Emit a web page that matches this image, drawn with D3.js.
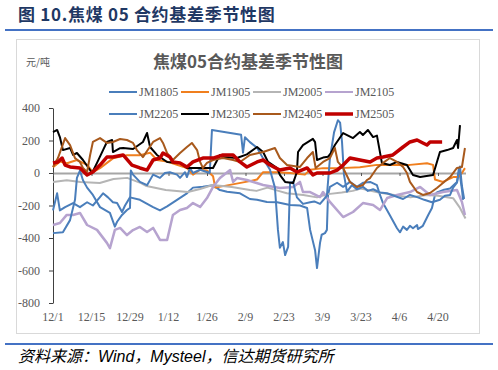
<!DOCTYPE html>
<html>
<head>
<meta charset="utf-8">
<script src="https://cdn.jsdelivr.net/npm/d3@7/dist/d3.min.js"></script>
<style>
body { margin: 0; background: #fff; }
</style>
</head>
<body>
<div id="container"></div>
<script>
// days counted from 12/1
var tickDays = [0, 14, 28, 42, 56, 70, 84, 98, 112, 126, 140];
var tickLabels = ["12/1", "12/15", "12/29", "1/12", "1/26", "2/9", "2/23", "3/9", "3/23", "4/6", "4/20"];
var yTicks = [400, 200, 0, -200, -400, -600, -800];

var seriesNames = ["JM1805", "JM1905", "JM2005", "JM2105", "JM2205", "JM2305", "JM2405", "JM2505"];
var seriesColors = ["#4a7ebb", "#f07f1e", "#b5b5b5", "#b6a3cf", "#4a7ebb", "#000000", "#a8591c", "#c00000"];

var jm1805 = [[0,-230],[1.5,-125],[2.5,-230],[4.4,-210],[7.3,-185],[9.8,-210],[12.4,-180],[14.5,-200],[17,-150],[18.2,-125],[20,-150],[21.8,-180],[23.3,-185],[25.1,-240],[26.2,-200],[28,-150],[31.6,-165],[36.4,-210],[38.9,-230],[41.5,-205],[45.1,-165],[48.7,-125],[50.9,-90],[54.5,-85],[58.2,-75],[60.7,-105],[63.3,-115],[68,-125],[71.6,-160],[74.2,-165],[77.8,-178],[81.5,-180],[86.2,-197],[89.8,-200],[92.4,-215],[93.5,-350],[95.3,-475],[96,-585],[97.1,-430],[97.7,-380],[98.9,-370],[99.6,-350],[100,-135],[100.7,-85],[103.3,-60],[105.5,-85],[108,-55],[110.5,-85],[112.7,-60],[115.3,-55],[117.8,-75],[118.9,-135],[120,-185],[122.5,-260],[125.1,-340],[126.2,-365],[127.3,-330],[128.7,-350],[129.8,-325],[130.9,-340],[132.4,-320],[132.7,-345],[134.5,-325],[136.4,-260],[137.8,-215],[138.9,-135],[139.6,-120],[141.8,-105],[144.4,-95],[146.9,-55],[147.6,30],[148.7,-100],[149.1,-165]];
var jm1905 = [[0,35],[2.5,70],[5.1,60],[8.7,80],[12.4,50],[14.5,5],[17.1,30],[21.8,90],[26.9,110],[31.6,110],[35.3,125],[37.8,80],[41.5,70],[45.1,50],[48.7,30],[50.9,-10],[53.5,20],[56,15],[58.2,-20],[59,-90],[71.6,-50],[74.2,-40],[76.4,5],[78.9,5],[81.5,5],[86.2,0],[91.6,-10],[93.5,20],[98.2,30],[104.4,30],[111.6,35],[117.8,50],[125,50],[129.8,50],[136,60],[138.2,50],[138.9,-40],[141.8,-55],[145.5,-25],[147.3,-25],[148.7,0],[149.8,30]];
var jm2005 = [[0,-55],[5,-45],[10,-55],[17,-62],[22,-37],[27,-30],[32,-62],[34,-80],[41,-105],[49,-117],[53.5,-98],[58,-74],[65,-86],[71.6,-105],[74,-110],[78,-90],[82,-110],[85,-125],[91,-135],[96,-150],[100,-130],[105,-120],[109,-110],[112,-95],[118,-118],[124,-135],[130,-150],[136,-135],[140,-140],[145.5,-155],[148,-215],[150,-280]];
var jm2105 = [[0,-320],[2.5,-308],[5,-258],[7.3,-258],[9.8,-246],[12.4,-320],[16,-350],[19.6,-430],[20.7,-462],[22.5,-350],[24.4,-338],[26.9,-382],[29.1,-351],[31.6,-332],[34.2,-363],[36.4,-338],[38.9,-412],[41.5,-412],[43.6,-258],[46.2,-228],[48.7,-215],[50.9,-185],[53.5,-209],[56,-154],[58.2,-86],[60.7,-31],[64.4,18],[65.5,-55],[66.9,-31],[70.5,-43],[76.4,-74],[82.5,-92],[87.3,-86],[89.8,-55],[90.9,-117],[93.5,-117],[97.1,-148],[98.2,-117],[100.7,-178],[105.5,-271],[109.1,-240],[112.7,-185],[116.4,-197],[118.9,-228],[121.5,-154],[125.1,-135],[129.8,-117],[133.5,-86],[137.1,-135],[141.8,-117],[146.9,-105],[148.7,-178],[149.8,-258]];
var jm2205 = [[0,-370],[3.6,-365],[6.2,-290],[8,-165],[8.7,-30],[9.8,15],[10.9,-45],[12.4,-90],[14.5,-135],[17.1,-210],[20.7,-245],[22.5,-330],[23.3,-300],[25.1,-258],[26.9,-228],[28,-215],[28.3,15],[29.1,-10],[31.6,-55],[34.2,-75],[36.4,-10],[38.9,-30],[40.7,0],[42.5,5],[45.1,-10],[46.2,-30],[48,5],[48.7,-25],[49.8,30],[50.9,0],[53.5,20],[57,0],[57.8,265],[68.4,235],[69.1,125],[69.8,220],[71.6,190],[74.2,155],[76.4,90],[78.9,20],[80.7,-90],[81.8,-350],[82.5,-460],[83.6,-425],[84.4,-505],[85.5,-455],[86.2,-60],[87.3,-55],[88.7,-150],[90.9,-190],[93.5,-180],[95,-175],[97.1,-190],[99.6,-140],[100.7,90],[102.2,250],[103.6,325],[104.4,310],[105.1,190],[105.8,-10],[106.9,-115],[108.7,-75],[110.5,-100],[112.7,-85],[114.5,-110],[116.4,-100],[118.9,-120],[121.5,-125],[124,-140],[127.3,-160],[129.8,-135],[132.7,-150],[135,-165],[137.8,-180],[140.7,-165],[142.5,-140],[144.4,-135],[145.5,-90],[146.9,-60],[148,40],[148.7,-80],[149.5,-160]];
var jm2305 = [[0,252],[1.5,265],[2.5,221],[3.6,141],[6.2,154],[7.3,111],[8.7,123],[10.9,80],[12.7,37],[14.2,0],[16,62],[18.2,141],[19.6,191],[21.5,203],[21.8,129],[24.4,153],[25.5,154],[29.1,148],[32.7,191],[34.2,246],[35.3,160],[37.8,111],[41.5,68],[46.2,62],[48.7,31],[53.5,31],[58.2,31],[60.7,111],[61.8,98],[66.9,92],[70.5,115],[74.2,160],[76.4,129],[78.2,68],[81.5,31],[82.5,-12],[84.4,-55],[87.3,-62],[88.7,6],[89.1,129],[90.9,172],[94.5,210],[95.3,190],[96,80],[98.2,95],[100,100],[101,120],[102.5,172],[105.5,246],[109.1,215],[111.6,252],[112.7,234],[114.5,265],[116.4,221],[117.8,230],[119.6,62],[122.5,49],[125.1,68],[128.7,49],[130.9,-12],[133.5,-25],[138.2,-12],[140.7,129],[143.3,141],[145.5,154],[146.9,203],[147.3,154],[148,295]];
var jm2405 = [[0,37],[1.8,92],[4.4,215],[6.2,172],[8,92],[9.8,68],[10.9,31],[12.4,6],[13.5,111],[14.5,191],[17.1,215],[19.6,185],[21.8,191],[24.4,209],[26.9,203],[29.1,185],[30.5,141],[32.7,98],[36.4,191],[38.9,215],[40,185],[41.5,123],[43.6,80],[46.2,123],[48.7,160],[50.5,185],[52.4,141],[53.5,68],[54.5,31],[56,62],[58.2,80],[61.8,92],[65.5,80],[68,68],[71.6,111],[76.4,129],[80.7,154],[82.5,92],[85.1,49],[89.8,37],[92.4,92],[94.5,129],[95.5,31],[98.2,68],[100.7,92],[102.5,154],[103.6,68],[105.5,31],[108,-55],[110.5,-86],[112.7,-74],[114.2,-43],[115.3,-31],[117.8,31],[120,62],[122.5,92],[125.1,68],[127.3,37],[128.7,0],[129.8,-55],[132.4,-117],[134.5,-135],[137.1,-123],[139.6,-92],[141.8,-62],[144.4,-25],[146.9,31],[148.7,37],[149.8,154]];
var jm2505 = [[0,62],[1.8,68],[3.3,92],[4.4,49],[6.2,37],[9.8,31],[12.4,-12],[14.5,6],[17.1,49],[19.6,98],[21.8,98],[25.5,111],[28.7,49],[31.6,31],[34.2,18],[36.4,80],[38.9,92],[40,123],[42.5,98],[43.6,68],[46.2,62],[48.7,37],[50.9,68],[54.5,92],[58.2,92],[61.8,111],[65.5,111],[68,68],[70.5,37],[74.2,68],[76.4,80],[78.9,49],[82.5,18],[86.2,31],[88.7,6],[92.4,31],[94.5,-12],[96,0],[98.2,0],[100.7,0],[103.3,18],[105.5,49],[108,92],[111.6,80],[115.3,68],[117.8,92],[120,98],[123.6,111],[127.3,160],[129.8,191],[132.4,203],[134.5,185],[136,172],[137.1,191],[141.5,191]];

var allSeries = [jm1805, jm1905, jm2005, jm2105, jm2205, jm2305, jm2405, jm2505];

var W = 498, H = 370;
var serif = "'Liberation Serif', 'Times New Roman', serif";
var cjk = "'Noto Sans CJK SC', sans-serif";

var svg = d3.select("#container")
	.append("svg")
	.attr("width", W)
	.attr("height", H);

// page heading
svg.append("text")
	.attr("x", 18)
	.attr("y", 21)
	.attr("font-family", cjk)
	.attr("font-size", 17)
	.attr("font-weight", "bold")
	.attr("fill", "#1f3864")
	.attr("letter-spacing", 0.7)
	.text("图 10.焦煤 05 合约基差季节性图");

svg.append("rect")
	.attr("x", 5).attr("y", 29)
	.attr("width", 488).attr("height", 2)
	.attr("fill", "#4472c4");

// chart frame
svg.append("rect")
	.attr("x", 16.5).attr("y", 39.5)
	.attr("width", 463).attr("height", 294)
	.attr("fill", "#fff")
	.attr("stroke", "#d9d9d9");

svg.append("text")
	.attr("x", 248).attr("y", 68)
	.attr("text-anchor", "middle")
	.attr("font-family", cjk)
	.attr("font-size", 17)
	.attr("font-weight", "bold")
	.attr("fill", "#595959")
	.text("焦煤05合约基差季节性图");

svg.append("text")
	.attr("x", 26).attr("y", 66)
	.attr("font-family", cjk)
	.attr("font-size", 10)
	.attr("fill", "#595959")
	.text("元/吨");

var x = d3.scaleLinear().domain([0, 150]).range([53, 465.5]);
var y = d3.scaleLinear().domain([-800, 400]).range([303, 108]);

// y axis
var yAxis = svg.append("g")
	.attr("transform", "translate(53,0)")
	.call(d3.axisLeft(y).tickValues(yTicks).tickSize(4).tickSizeOuter(0).tickPadding(9)
		.tickFormat(function(d){ return String(d); }));
yAxis.select(".domain").attr("stroke", "#404040");
yAxis.selectAll(".tick line").attr("stroke", "#404040");
yAxis.selectAll("text")
	.attr("font-family", serif)
	.attr("font-size", 12)
	.attr("fill", "#595959");

// zero line with small ticks
var xAxis = svg.append("g")
	.attr("transform", "translate(0," + y(0) + ")")
	.call(d3.axisBottom(x).tickValues(tickDays).tickSize(3).tickSizeOuter(0).tickFormat(""));
xAxis.select(".domain").attr("stroke", "#a6a6a6").attr("stroke-width", 2);
xAxis.selectAll(".tick line").attr("stroke", "#595959");

// x labels at the bottom
svg.selectAll(".xlab")
	.data(tickDays)
	.enter()
	.append("text")
	.attr("class", "xlab")
	.attr("x", function(d){ return x(d); })
	.attr("y", 321)
	.attr("text-anchor", "middle")
	.attr("font-family", serif)
	.attr("font-size", 12)
	.attr("fill", "#595959")
	.text(function(d, i){ return tickLabels[i]; });

var line = d3.line()
	.x(function(d){ return x(d[0]); })
	.y(function(d){ return y(d[1]); });

svg.selectAll(".series")
	.data(allSeries)
	.enter()
	.append("path")
	.attr("class", "series")
	.attr("d", line)
	.attr("fill", "none")
	.attr("stroke", function(d, i){ return seriesColors[i]; })
	.attr("stroke-width", function(d, i){ return i === 7 ? 3.5 : (i === 3 ? 2.5 : 2); })
	.attr("stroke-linejoin", "round");

// legend
var legend = svg.selectAll(".leg")
	.data(seriesNames)
	.enter()
	.append("g")
	.attr("class", "leg")
	.attr("transform", function(d, i){
		return "translate(" + (109 + (i % 4) * 72) + "," + (i < 4 ? 92 : 114) + ")";
	});
legend.append("line")
	.attr("x1", 0).attr("x2", 28)
	.attr("stroke", function(d, i){ return seriesColors[i]; })
	.attr("stroke-width", function(d, i){ return i === 7 ? 3.5 : 2; });
legend.append("text")
	.attr("x", 30).attr("y", 4)
	.attr("font-family", serif)
	.attr("font-size", 12)
	.attr("fill", "#595959")
	.text(function(d){ return d; });

// source line
svg.append("rect")
	.attr("x", 5).attr("y", 343)
	.attr("width", 488).attr("height", 2)
	.attr("fill", "#4472c4");

svg.append("text")
	.attr("x", 18).attr("y", 362)
	.attr("font-family", "'Liberation Sans', 'Noto Sans CJK SC', sans-serif")
	.attr("font-size", 16)
	.attr("font-style", "italic")
	.attr("fill", "#000")
	.text("资料来源：Wind，Mysteel，信达期货研究所");
</script>
</body>
</html>
